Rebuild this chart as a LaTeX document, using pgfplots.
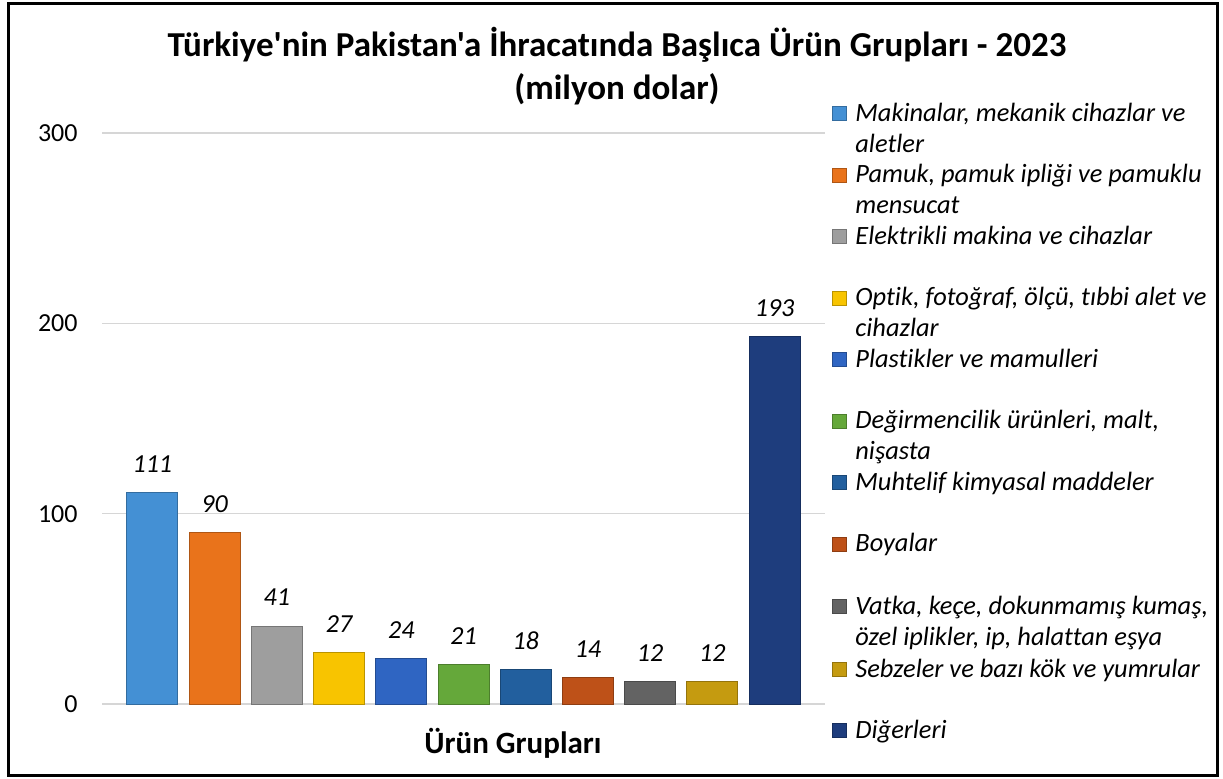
\documentclass[border=0pt]{standalone}
\usepackage{pgfplots}
\pgfplotsset{compat=1.18}
\usepackage{fontspec}
\setmainfont{Carlito}[Ligatures={TeXOff,NoCommon}]
\definecolor{c1}{HTML}{4490D4}
\definecolor{c2}{HTML}{E9731B}
\definecolor{c3}{HTML}{9E9E9E}
\definecolor{c4}{HTML}{F8C400}
\definecolor{c5}{HTML}{2F65C2}
\definecolor{c6}{HTML}{65A83A}
\definecolor{c7}{HTML}{225F9E}
\definecolor{c8}{HTML}{BE5118}
\definecolor{c9}{HTML}{636363}
\definecolor{c10}{HTML}{C59B10}
\definecolor{c11}{HTML}{1E3D7D}
\begin{document}
\begin{tikzpicture}
\begin{scope}[x=0.5pt,y=-0.5pt]
\path (0,0) rectangle (1223,778);
\draw[line width=1.5pt] (8.5,3.5) rectangle (1217,775.5);
\node[anchor=base,font=\fontsize{17.5}{17.5}\selectfont\bfseries] at (617,56) {Türkiye'nin Pakistan'a İhracatında Başlıca Ürün Grupları - 2023};
\node[anchor=base,font=\fontsize{17.5}{17.5}\selectfont\bfseries] at (617,99) {(milyon dolar)};
\node[anchor=base,font=\fontsize{15.5}{15.5}\selectfont\bfseries] at (513,753) {Ürün Grupları};
% legend
\foreach \c/\b/\la/\lb in {
 c1/121/{Makinalar, mekanik cihazlar ve}/{aletler},
 c2/182.5/{Pamuk, pamuk ipliği ve pamuklu}/{mensucat},
 c3/244/{Elektrikli makina ve cihazlar}/{},
 c4/305.5/{Optik, fotoğraf, ölçü, tıbbi alet ve}/{cihazlar},
 c5/367/{Plastikler ve mamulleri}/{},
 c6/428.5/{Değirmencilik ürünleri, malt,}/{nişasta},
 c7/490/{Muhtelif kimyasal maddeler}/{},
 c8/551.5/{Boyalar}/{},
 c9/614/{Vatka, keçe, dokunmamış kumaş,}/{özel iplikler, ip, halattan eşya},
 c10/677/{Sebzeler ve bazı kök ve yumrular}/{},
 c11/738/{Diğerleri}/{}}{
 \fill[\c, draw=\c!75!black, line width=0.4pt] (832.5,\b-0.5) rectangle (846.5,\b-14.5);
 \node[anchor=base west, inner sep=0pt, font=\fontsize{13.2}{13.2}\selectfont\itshape] at (855,\b) {\la};
 \node[anchor=base west, inner sep=0pt, font=\fontsize{13.2}{13.2}\selectfont\itshape] at (855,\b+31) {\lb};
}
\end{scope}
\begin{axis}[
 at={(51pt,-352pt)}, anchor=south west,
 scale only axis, width=361.5pt, height=285.5pt,
 xmin=-0.81, xmax=10.81, ymin=0, ymax=300,
 ytick={0,100,200,300}, xtick=\empty,
 ymajorgrids, grid style={color=black!16, line width=0.8pt},
 axis line style={draw=none}, major tick length=0pt,
 yticklabel style={font=\fontsize{13}{13}\selectfont, anchor=east, xshift=-12pt, inner sep=0pt},
 /pgf/number format/assume math mode=true,
 ybar, bar width=25.5pt,
 nodes near coords,
 every node near coord/.append style={font=\fontsize{13}{13}\selectfont\itshape, anchor=base, yshift=10pt, inner sep=0pt, text=black},
 clip=false,
]
\addplot[fill=c1, draw=c1!75!black, bar shift=0pt] coordinates {(0,111)};
\addplot[fill=c2, draw=c2!75!black, bar shift=0pt] coordinates {(1,90)};
\addplot[fill=c3, draw=c3!75!black, bar shift=0pt] coordinates {(2,41)};
\addplot[fill=c4, draw=c4!75!black, bar shift=0pt] coordinates {(3,27)};
\addplot[fill=c5, draw=c5!75!black, bar shift=0pt] coordinates {(4,24)};
\addplot[fill=c6, draw=c6!75!black, bar shift=0pt] coordinates {(5,21)};
\addplot[fill=c7, draw=c7!75!black, bar shift=0pt] coordinates {(6,18)};
\addplot[fill=c8, draw=c8!75!black, bar shift=0pt] coordinates {(7,14)};
\addplot[fill=c9, draw=c9!75!black, bar shift=0pt] coordinates {(8,12)};
\addplot[fill=c10, draw=c10!75!black, bar shift=0pt] coordinates {(9,12)};
\addplot[fill=c11, draw=c11!75!black, bar shift=0pt] coordinates {(10,193)};
\end{axis}
\end{tikzpicture}
\end{document}
